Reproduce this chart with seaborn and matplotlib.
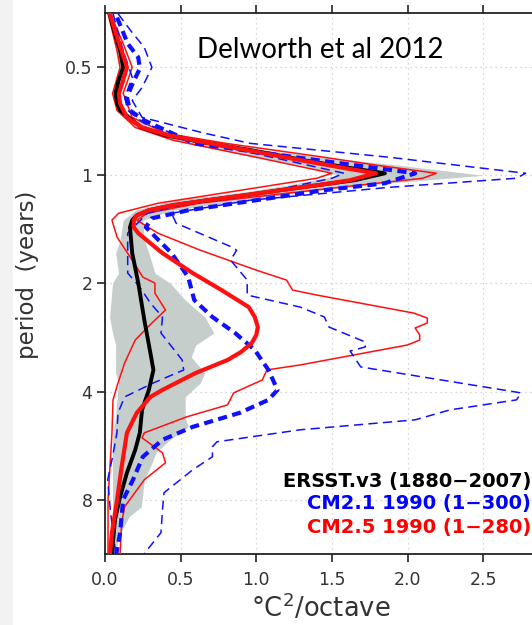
import numpy as np
import pandas as pd
import matplotlib
matplotlib.use("Agg")
import matplotlib.pyplot as plt
from matplotlib.patches import Rectangle
import seaborn as sns

# ---------------- data (period in years, power in degC^2/octave) ----------------
ersst_period = [0.355, 0.396, 0.450, 0.501, 0.545, 0.592, 0.631, 0.660, 0.736, 0.774, 0.810, 0.852,
                0.909, 0.956, 0.987, 1.032, 1.066, 1.100, 1.137, 1.173, 1.211, 1.251, 1.292, 1.333,
                1.395, 1.647, 1.995, 2.528, 3.121, 3.479, 3.954, 4.494, 5.206, 5.804, 6.723, 7.839,
                9.081, 11.28]
ersst_power = [0.03, 0.06, 0.10, 0.12, 0.09, 0.07, 0.08, 0.10, 0.24, 0.40, 0.65, 0.97,
               1.32, 1.63, 1.85, 1.65, 1.40, 1.16, 0.92, 0.68, 0.45, 0.29, 0.21, 0.18,
               0.165, 0.18, 0.22, 0.26, 0.30, 0.32, 0.29, 0.245, 0.23, 0.20, 0.145, 0.10,
               0.066, 0.046]

cm25_period = [0.355, 0.396, 0.450, 0.501, 0.545, 0.592, 0.631, 0.690, 0.736, 0.774, 0.810, 0.852,
               0.909, 0.956, 0.987, 1.032, 1.066, 1.100, 1.137, 1.173, 1.211, 1.251, 1.292, 1.333,
               1.395, 1.449, 1.647, 1.871, 2.086, 2.326, 2.479, 2.643, 2.782, 2.928, 3.100, 3.265,
               3.547, 3.954, 4.135, 4.581, 5.206, 6.470, 7.990, 9.866, 11.28]
cm25_power = [0.033, 0.066, 0.11, 0.145, 0.12, 0.092, 0.099, 0.145, 0.245, 0.42, 0.66, 0.945,
              1.30, 1.59, 1.79, 1.62, 1.40, 1.16, 0.92, 0.68, 0.45, 0.29, 0.21, 0.19,
              0.19, 0.22, 0.38, 0.58, 0.77, 0.95, 0.99, 1.01, 1.00, 0.97, 0.90, 0.81,
              0.60, 0.38, 0.30, 0.21, 0.145, 0.11, 0.08, 0.046, 0.033]

cm21_period = [0.364, 0.430, 0.470, 0.505, 0.552, 0.607, 0.660, 0.704, 0.815, 0.891, 0.987, 1.052,
               1.100, 1.173, 1.251, 1.317, 1.395, 1.647, 1.920, 2.224, 2.479, 2.747, 3.062, 3.479,
               3.954, 4.215, 4.581, 5.010, 5.443, 6.069, 7.030, 7.990, 9.866, 11.28]
cm21_power = [0.08, 0.15, 0.22, 0.23, 0.185, 0.145, 0.165, 0.26, 0.59, 1.26, 2.05, 1.85,
              1.45, 1.00, 0.55, 0.31, 0.27, 0.44, 0.55, 0.59, 0.71, 0.86, 0.99, 1.08,
              1.14, 1.08, 0.89, 0.58, 0.38, 0.25, 0.185, 0.12, 0.10, 0.075]

cm21_max_period = [0.355, 0.396, 0.441, 0.501, 0.570, 0.619, 0.690, 0.764, 0.815, 0.891, 0.987, 1.019,
                   1.080, 1.173, 1.275, 1.359, 1.585, 1.616, 1.722, 1.957, 2.154, 2.326, 2.479, 2.643,
                   2.909, 3.004, 3.082, 3.413, 4.031, 4.215, 4.494, 4.790, 5.106, 5.513, 5.692, 6.069,
                   6.595, 7.641, 8.518, 9.866, 11.28]
cm21_max_power = [0.086, 0.17, 0.26, 0.31, 0.245, 0.18, 0.245, 0.66, 0.96, 1.88, 2.78, 2.72,
                  1.88, 0.96, 0.44, 0.47, 0.84, 0.87, 0.83, 0.94, 0.94, 1.29, 1.45, 1.48,
                  1.72, 1.72, 1.62, 1.69, 2.75, 2.72, 2.28, 2.05, 1.29, 0.74, 0.71, 0.71,
                  0.58, 0.39, 0.38, 0.37, 0.26]

cm21_min_period = [0.355, 0.450, 0.534, 0.607, 0.660, 0.717, 0.799, 0.909, 0.987, 1.019, 1.137, 1.211,
                   1.275, 1.449, 1.871, 2.046, 2.267, 2.479, 2.747, 3.265, 3.479, 3.781, 4.135, 4.581,
                   5.206, 6.069, 7.030, 8.518, 11.28]
cm21_min_power = [0.053, 0.12, 0.18, 0.13, 0.15, 0.26, 0.58, 1.20, 1.58, 1.50, 0.96, 0.50,
                  0.28, 0.15, 0.15, 0.23, 0.30, 0.38, 0.37, 0.51, 0.52, 0.32, 0.13, 0.086,
                  0.079, 0.05, 0.018, 0.035, 0.07]

cm25_max_period = [0.364, 0.430, 0.501, 0.592, 0.690, 0.764, 0.815, 0.891, 0.938, 0.987, 1.019, 1.052,
                   1.122, 1.196, 1.275, 1.333, 1.449, 1.616, 1.836, 1.957, 2.086, 2.154, 2.417, 2.495,
                   2.576, 2.659, 2.782, 2.872, 2.965, 3.370, 3.479, 3.709, 4.031, 4.353, 4.699, 5.206,
                   5.375, 5.918, 6.307, 7.030, 8.356, 9.256, 11.28]
cm25_max_power = [0.046, 0.12, 0.18, 0.12, 0.18, 0.40, 0.80, 1.45, 1.80, 2.19, 2.10, 1.80,
                  1.20, 0.62, 0.28, 0.21, 0.35, 0.63, 1.00, 1.20, 1.24, 1.40, 2.04, 2.13,
                  2.13, 2.05, 2.08, 2.08, 2.00, 1.29, 1.07, 1.04, 0.85, 0.81, 0.54, 0.26,
                  0.245, 0.38, 0.40, 0.26, 0.13, 0.11, 0.10]

cm25_min_period = [0.355, 0.450, 0.501, 0.592, 0.660, 0.736, 0.799, 0.891, 0.987, 1.019, 1.100, 1.196,
                   1.275, 1.333, 1.487, 1.722, 1.920, 1.995, 2.127, 2.371, 2.576, 2.872, 3.327, 3.781,
                   4.215, 5.206, 6.470, 7.990, 11.28]
cm25_min_power = [0.02, 0.08, 0.10, 0.05, 0.08, 0.20, 0.45, 1.00, 1.50, 1.40, 0.90, 0.35,
                  0.09, 0.046, 0.08, 0.18, 0.25, 0.33, 0.33, 0.40, 0.31, 0.20, 0.13, 0.086,
                  0.053, 0.046, 0.033, 0.02, 0.02]

band_period = [0.355, 0.450, 0.501, 0.592, 0.660, 0.736, 0.799, 0.841, 0.891, 0.938, 1.000, 1.066,
               1.115, 1.173, 1.251, 1.333, 1.516, 1.647, 1.871, 1.995, 2.224, 2.479, 2.747, 2.965,
               3.202, 3.547, 3.781, 4.135, 4.699, 5.010, 5.443, 5.878, 6.470, 7.030, 8.356, 8.907,
               10.12, 11.28]
band_low = [0.02, 0.07, 0.09, 0.05, 0.08, 0.22, 0.45, 0.70, 1.00, 1.30, 1.55, 1.20,
            0.90, 0.45, 0.20, 0.12, 0.10, 0.07, 0.09, 0.05, 0.04, 0.03, 0.05, 0.07,
            0.07, 0.07, 0.09, 0.08, 0.07, 0.06, 0.05, 0.05, 0.05, 0.05, 0.05, 0.05,
            0.05, 0.04]
band_high = [0.04, 0.11, 0.13, 0.08, 0.12, 0.30, 0.65, 0.96, 1.45, 1.95, 2.50, 1.70,
             1.30, 0.90, 0.45, 0.25, 0.26, 0.29, 0.33, 0.43, 0.53, 0.66, 0.72, 0.60,
             0.57, 0.66, 0.63, 0.53, 0.53, 0.55, 0.43, 0.34, 0.30, 0.26, 0.24, 0.16,
             0.09, 0.07]

y_ticks = [0.5, 1, 2, 4, 8]
y_tick_labels = ["0.5", "1", "2", "4", "8"]
x_ticks = [0.0, 0.5, 1.0, 1.5, 2.0, 2.5]
x_tick_labels = ["0.0", "0.5", "1.0", "1.5", "2.0", "2.5"]
legend_labels = ["ERSST.v3 (1880\u22122007)", "CM2.1 1990 (1\u2212300)", "CM2.5 1990 (1\u2212280)"]
legend_colors = ["black", "#0000ff", "#ff0000"]

# ---------------- figure ----------------
sns.set_style("white")
plt.rcParams["font.family"] = ["DejaVu Sans"]

W, H = 532, 625
fig = plt.figure(figsize=(W / 100, H / 100), dpi=100)
fig.patches.append(Rectangle((0, 0), 13 / W, 1, transform=fig.transFigure,
                             facecolor="#f2f2f2", edgecolor="none", zorder=0))

x0, x1, ytop, ybot = 105, 537, 13, 554
ax = fig.add_axes([x0 / W, 1 - ybot / H, (x1 - x0) / W, (ybot - ytop) / H])
ax.set_facecolor("white")

ax.set_yscale("log", base=2)

ax.fill_betweenx(band_period, band_low, band_high, color="#c6cecc", lw=0, zorder=1)

red = "#ff1010"
blue = "#1010ff"

def line(p, v, **kw):
    df = pd.DataFrame({"period": p, "power": v})
    sns.lineplot(data=df, x="power", y="period", orient="y", estimator=None,
                 sort=True, ax=ax, legend=False, **kw)

line(cm25_min_period, cm25_min_power, color=red, lw=1.1, zorder=3)
line(cm25_max_period, cm25_max_power, color=red, lw=1.1, zorder=3)
line(cm21_min_period, cm21_min_power, color=blue, lw=1.1, linestyle=(0, (6, 3.5)), zorder=3)
line(cm21_max_period, cm21_max_power, color=blue, lw=1.1, linestyle=(0, (6, 3.5)), zorder=3)
line(ersst_period, ersst_power, color="black", lw=2.8, zorder=4)
line(cm21_period, cm21_power, color=blue, lw=3.0, linestyle=(0, (2.2, 1.3)), zorder=5)
line(cm25_period, cm25_power, color=red, lw=3.0, zorder=6)

ax.set_ylim(2 ** 3.5, 2 ** -1.5)
ax.set_xlim(0, (x1 - x0) / 151.3)
ax.set_yticks(y_ticks)
ax.set_yticklabels(y_tick_labels)
ax.yaxis.set_minor_locator(matplotlib.ticker.NullLocator())
ax.set_xticks(x_ticks)
ax.set_xticklabels(x_tick_labels)

ax.tick_params(axis="both", which="major", direction="out", length=6, width=1.2,
               color="#222222", labelsize=12.5, labelcolor="#333333", pad=3)
ax.tick_params(axis="x", top=True, bottom=True, pad=6)
ax.tick_params(axis="y", left=True, right=False)

for s in ["left", "bottom", "top"]:
    ax.spines[s].set_visible(True)
    ax.spines[s].set_linewidth(1.3)
    ax.spines[s].set_color("#222222")
ax.spines["right"].set_visible(False)

ax.grid(True, which="major", linestyle=(0, (1, 3)), color="#c8c8c8", lw=0.9, zorder=0)
ax.set_axisbelow(True)

ax.set_ylabel("")
ax.set_xlabel("\u00b0C$^2$/octave", fontsize=18.5, color="#333333", labelpad=3)

fig.text(28 / W, 1 - 275 / H, "period  (years)", rotation=90, fontsize=16.5,
         color="#333333", ha="center", va="center")

fig.text(320 / W, 1 - 50 / H, "Delworth et al 2012", family=["Lato", "DejaVu Sans"],
         fontsize=20, ha="center", va="center", color="black")

legend_y = [481, 504, 527]
for lab, col, yy in zip(legend_labels, legend_colors, legend_y):
    fig.text(531 / W, 1 - yy / H, lab, color=col, fontsize=14, fontweight="bold",
             ha="right", va="center")

fig.savefig("out.png", dpi=100)
